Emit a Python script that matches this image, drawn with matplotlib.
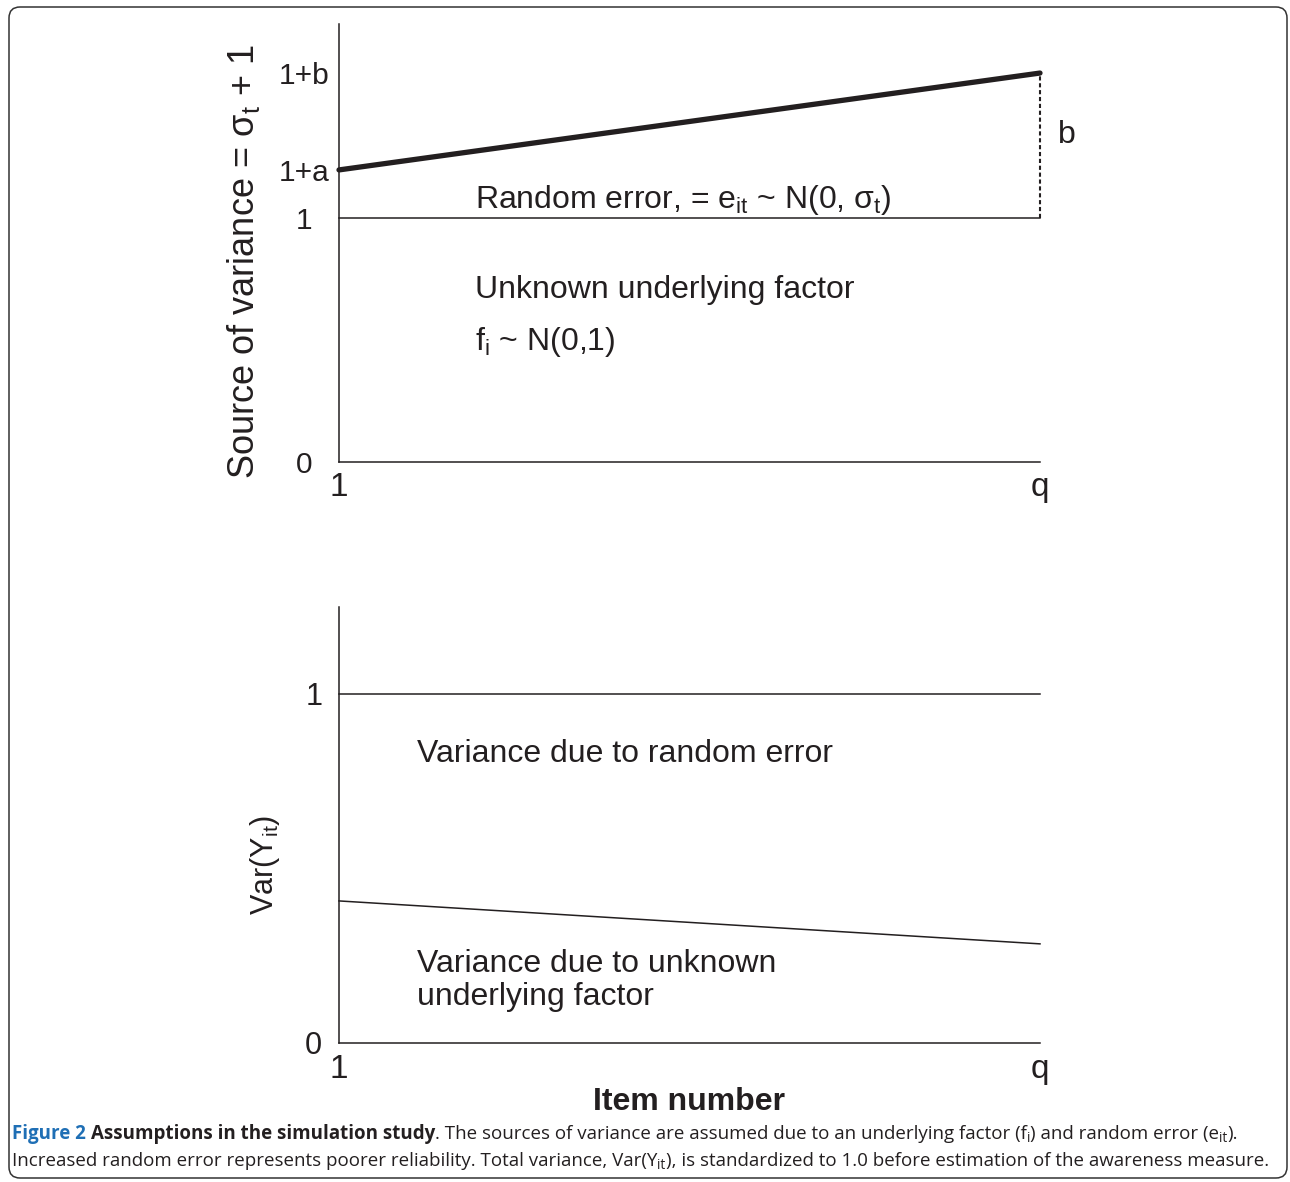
import matplotlib
matplotlib.use('Agg')
import matplotlib.pyplot as plt
from matplotlib.patches import FancyBboxPatch
from matplotlib.transforms import IdentityTransform
from matplotlib import font_manager

plt.rcParams['font.family'] = ['Liberation Sans', 'DejaVu Sans']
plt.rcParams['mathtext.fontset'] = 'custom'
plt.rcParams['mathtext.rm'] = 'Liberation Sans'
plt.rcParams['mathtext.it'] = 'Liberation Sans:italic'
plt.rcParams['mathtext.bf'] = 'Liberation Sans:bold'
plt.rcParams['mathtext.default'] = 'regular'

# ---------------- data ----------------
item_pos = [0.0, 1.0]
item_labels = ['1', 'q']

top_ytick_vals = [0.0, 1.0, 1.197, 1.594]
top_ytick_labels = ['0', '1', '1+a', '1+b']
total_sd = [1.197, 1.594]      # sigma_t + 1 at item 1 and item q
factor_level = [1.0, 1.0]      # unknown underlying factor level

bottom_ytick_vals = [0.0, 1.0]
bottom_ytick_labels = ['0', '1']
total_var = [1.0, 1.0]
factor_share = [0.407, 0.284]

# ---------------- figure ----------------
W, H = 1290, 1182
fig = plt.figure(figsize=(W / 100, H / 100), dpi=100)
INK = '#231f20'


def px_axes(left, top, right, bottom):
    return fig.add_axes([left / W, 1 - bottom / H, (right - left) / W, (bottom - top) / H])


def style_axes(ax):
    for s in ['top', 'right']:
        ax.spines[s].set_visible(False)
    for s in ['left', 'bottom']:
        ax.spines[s].set_linewidth(1.1)
        ax.spines[s].set_color(INK)
    ax.tick_params(length=0, colors=INK)
    ax.set_facecolor('none')


# ---- top panel ----
ax1 = px_axes(339, 24, 1040, 462)
style_axes(ax1)
ax1.set_xlim(0, 1)
ax1.set_ylim(0, 1.795)
ax1.plot(item_pos, total_sd, color=INK, lw=3.8, solid_capstyle='round', clip_on=False)
ax1.plot(item_pos, factor_level, color=INK, lw=1.1, clip_on=False)
ax1.plot([item_pos[1], item_pos[1]], [factor_level[1], total_sd[1]], color=INK, lw=1.5,
         ls=(0, (2, 1.3)), clip_on=False)
ax1.set_xticks(item_pos)
ax1.set_xticklabels(item_labels, fontsize=24)
ax1.tick_params(axis='x', pad=7)
ax1.set_yticks(top_ytick_vals)
ax1.set_yticklabels(top_ytick_labels, fontsize=21.5)
ax1.tick_params(axis='y', pad=25)
for lbl in ax1.get_yticklabels():
    lbl.set_ha('center')

ax1.text(0.194, 1.041, r'Random error, = e$_{\mathrm{it}}$ ~ N(0, σ$_{\mathrm{t}}$)',
         fontsize=23, color=INK, va='baseline', ha='left')
ax1.text(0.194, 0.672, 'Unknown underlying factor', fontsize=23, color=INK,
         va='baseline', ha='left')
ax1.text(0.194, 0.459, r'f$_{\mathrm{i}}$ ~ N(0,1)', fontsize=23, color=INK,
         va='baseline', ha='left')
ax1.text(1.026, 1.307, 'b', fontsize=23, color=INK, va='baseline', ha='left')

fig.text(244 / W, 1 - 262 / H, r'Source of variance = σ$_{\mathrm{t}}$ + 1', fontsize=26,
         color=INK, rotation=90, ha='center', va='center')

# ---- bottom panel ----
ax2 = px_axes(339, 607, 1040, 1043)
style_axes(ax2)
ax2.set_xlim(0, 1)
ax2.set_ylim(0, 1.249)
ax2.plot(item_pos, total_var, color=INK, lw=1.1, clip_on=False)
ax2.plot(item_pos, factor_share, color=INK, lw=1.1, clip_on=False)
ax2.set_xticks(item_pos)
ax2.set_xticklabels(item_labels, fontsize=24)
ax2.tick_params(axis='x', pad=8)
ax2.set_yticks(bottom_ytick_vals)
ax2.set_yticklabels(bottom_ytick_labels, fontsize=22)
ax2.tick_params(axis='y', pad=12)

ax2.text(0.111, 0.805, 'Variance due to random error', fontsize=23, color=INK,
         va='baseline', ha='left')
ax2.text(0.111, 0.203, 'Variance due to unknown', fontsize=23, color=INK,
         va='baseline', ha='left')
ax2.text(0.111, 0.108, 'underlying factor', fontsize=23, color=INK,
         va='baseline', ha='left')

fig.text(265 / W, 1 - 865 / H, r'Var(Y$_{\mathrm{it}}$)', fontsize=22, color=INK,
         rotation=90, ha='center', va='center')

fig.text(689 / W, 1 - 1110 / H, 'Item number', fontsize=23, fontweight='bold',
         color=INK, ha='center', va='baseline')

# ---- caption ----
def has_font(name):
    try:
        font_manager.findfont(font_manager.FontProperties(family=name),
                              fallback_to_default=False)
        return True
    except Exception:
        return False


CAP_FAMILY = ['Liberation Sans Narrow', 'DejaVu Sans'] if has_font('Liberation Sans Narrow') \
    else ['Open Sans', 'DejaVu Sans']
BLUE = '#1f6fb5'
line1 = [
    ('Figure 2', 'bold', BLUE, False, False),
    ('Assumptions in the simulation study', 'bold', INK, False, True),
    ('. The sources of variance are assumed due to an underlying factor (f', 'normal', INK, False, False),
    ('i', 'normal', INK, True, False),
    (') and random error (e', 'normal', INK, False, False),
    ('it', 'normal', INK, True, False),
    (').', 'normal', INK, False, False),
]
line2 = [
    ('Increased random error represents poorer reliability. Total variance, Var(Y', 'normal', INK, False, False),
    ('it', 'normal', INK, True, False),
    ('), is standardized to 1.0 before estimation of the awareness measure.', 'normal', INK, False, False),
]

renderer = fig.canvas.get_renderer()


def measure(txt, size, weight):
    t = fig.text(0, 0, txt, fontsize=size, fontweight=weight, family=CAP_FAMILY)
    w = t.get_window_extent(renderer).width
    t.remove()
    return w


def place_line(segs, x0, y0, size, draw=True):
    sp = measure('x x', size, 'normal') - measure('xx', size, 'normal')
    x = x0
    for txt, weight, color, sub, space_before in segs:
        if space_before:
            x += sp
        fs = size * 0.72 if sub else size
        dy = size * 0.25 if sub else 0
        t = fig.text(x / W, 1 - (y0 + dy) / H, txt, fontsize=fs, fontweight=weight,
                     color=color, family=CAP_FAMILY, ha='left', va='baseline')
        x += t.get_window_extent(renderer).width
        if not draw:
            t.remove()
    return x - x0


base = 12.0
w1 = place_line(line1, 0, 0, base, draw=False)
w2 = place_line(line2, 0, 0, base, draw=False)
cap_size = base * min(1262 / w1, 1250 / w2)
place_line(line1, 12, 1139, cap_size)
place_line(line2, 12, 1166, cap_size)

# ---- rounded frame ----
frame = FancyBboxPatch((9, H - 1178), 1278, 1171, boxstyle='round,pad=0,rounding_size=11',
                       transform=IdentityTransform(), fill=False, edgecolor='#333333', lw=1.1)
fig.patches.append(frame)

fig.savefig('out.png', dpi=100, facecolor='white')
